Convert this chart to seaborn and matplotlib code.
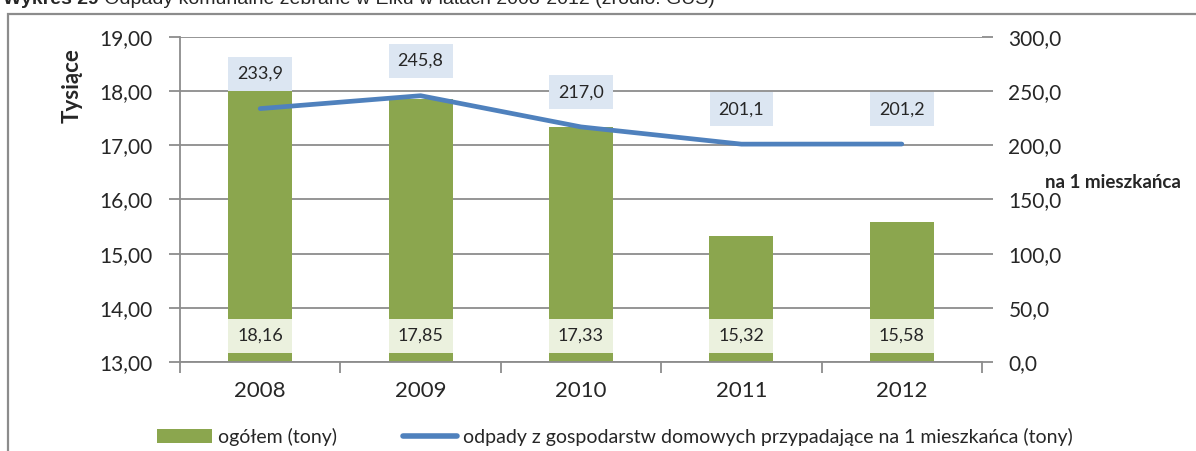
import matplotlib
matplotlib.use("Agg")
import matplotlib.pyplot as plt
import matplotlib.ticker as mticker
from matplotlib.patches import Rectangle
import numpy as np
import pandas as pd
import seaborn as sns

# --- data -------------------------------------------------------------
years = ["2008", "2009", "2010", "2011", "2012"]
total_thousand_t = [18.16, 17.85, 17.33, 15.32, 15.58]      # ogółem (tys. ton)
per_capita_kg = [233.9, 245.8, 217.0, 201.1, 201.2]         # na 1 mieszkańca
left_ticks = [13, 14, 15, 16, 17, 18, 19]
right_ticks = [0, 50, 100, 150, 200, 250, 300]

title_bold = "Wykres 29"
title_rest = " Odpady komunalne zebrane w Ełku w latach 2008-2012 (źródło: GUS)"
legend_bar = "ogółem (tony)"
legend_line = "odpady z gospodarstw domowych przypadające na 1 mieszkańca (tony)"

df = pd.DataFrame({"rok": years, "ogolem": total_thousand_t, "na_mieszkanca": per_capita_kg})

# --- style ------------------------------------------------------------
sns.set_theme(style="white")
plt.rcParams["font.family"] = ["Lato", "DejaVu Sans"]

BAR = "#8BA64E"
LINE = "#4F81BD"
GRID = "#8C8C8C"
BAR_BOX = "#EBF1DE"
LINE_BOX = "#DCE6F2"

W, H = 1196, 451
fig = plt.figure(figsize=(W / 100, H / 100), dpi=100)
ax = fig.add_axes([180 / W, 1 - 362 / H, 802 / W, 325 / H])

def comma(fmt):
    return mticker.FuncFormatter(lambda v, p: fmt.format(v).replace(".", ","))

# bars
sns.barplot(data=df, x="rok", y="ogolem", ax=ax, color=BAR, saturation=1,
            width=0.4, edgecolor="none", zorder=2)
ax.set_ylim(left_ticks[0], left_ticks[-1])
ax.set_xlim(-0.5, len(years) - 0.5)
ax.set_yticks(left_ticks)
ax.yaxis.set_major_formatter(comma("{:.2f}"))
ax.yaxis.grid(True, color=GRID, linewidth=1.3, zorder=0)
ax.set_axisbelow(True)
ax.set_xlabel("")
ax.set_ylabel("")

for side in ("top", "right"):
    ax.spines[side].set_visible(False)
for side in ("left", "bottom"):
    ax.spines[side].set_color(GRID)
    ax.spines[side].set_linewidth(1.3)

ax.tick_params(axis="y", which="major", length=8, width=1.3, color=GRID,
               labelsize=15, pad=12, left=True)
ax.tick_params(axis="x", which="major", length=0, labelsize=16, pad=14)
ax.xaxis.set_minor_locator(mticker.FixedLocator(np.arange(-0.5, len(years), 1.0)))
ax.tick_params(axis="x", which="minor", length=8, width=1.3, color=GRID, bottom=True)

# value labels at the base of each bar
for i, v in enumerate(total_thousand_t):
    ax.annotate(f"{v:.2f}".replace(".", ","), xy=(i, left_ticks[0]),
                xytext=(0, 19), textcoords="offset points",
                ha="center", va="center", fontsize=13, zorder=5,
                bbox=dict(boxstyle="square,pad=0.5", fc=BAR_BOX, ec="none"))

# line on the secondary axis
ax2 = ax.twinx()
sns.pointplot(data=df, x="rok", y="na_mieszkanca", ax=ax2, color=LINE,
              markers="", linewidth=3.4, errorbar=None)
for ln in ax2.lines:
    ln.set_solid_capstyle("round")
    ln.set_solid_joinstyle("round")
ax2.set_ylim(right_ticks[0], right_ticks[-1])
ax2.set_xlim(-0.5, len(years) - 0.5)
ax2.set_yticks(right_ticks)
ax2.yaxis.set_major_formatter(comma("{:.1f}"))
ax2.set_xlabel("")
ax2.set_ylabel("")
for side in ("top", "left", "right", "bottom"):
    ax2.spines[side].set_visible(False)
ax2.tick_params(axis="y", length=8, width=1.3, color=GRID, labelsize=15, pad=11, right=True)
ax2.grid(False)

for i, v in enumerate(per_capita_kg):
    ax2.annotate(f"{v:.1f}".replace(".", ","), xy=(i, v),
                 xytext=(0, 25), textcoords="offset points",
                 ha="center", va="center", fontsize=13, zorder=6,
                 bbox=dict(boxstyle="square,pad=0.5", fc=LINE_BOX, ec="none"))

# axis captions
fig.text(72 / W, 1 - 86 / H, "Tysiące", rotation=90, ha="center", va="center",
         fontsize=16, fontweight="bold")
fig.text(1045 / W, 1 - 183 / H, "na 1 mieszkańca", ha="left", va="center",
         fontsize=13.5, fontweight="bold")

# legend
handles = [
    Rectangle((0, 0), 1, 1, fc=BAR, ec="none"),
    plt.Line2D([0], [0], color=LINE, linewidth=4, solid_capstyle="round"),
]
fig.legend(handles, [legend_bar, legend_line], loc="center",
           bbox_to_anchor=(615 / W, 1 - 437 / H), ncol=2, frameon=False,
           fontsize=14, handlelength=2.8, handleheight=0.7,
           handletextpad=0.3, columnspacing=3.4)

# outer frame
fig.patches.append(Rectangle((8 / W, -0.01), 1.0, 1 - 14 / H + 0.01,
                             transform=fig.transFigure, fill=False,
                             ec="#8C8C8C", lw=1.6))

# title (partly above the top edge)
tb = fig.text(3 / W, 1 - 4 / H, title_bold, ha="left", va="baseline",
              fontsize=14, fontweight="bold", family=["Liberation Sans", "DejaVu Sans"])
fig.canvas.draw()
ext = tb.get_window_extent(fig.canvas.get_renderer())
fig.text(ext.x1 / W, 1 - 4 / H, title_rest, ha="left", va="baseline",
         fontsize=14, family=["Liberation Sans", "DejaVu Sans"])

fig.savefig("out.png", dpi=100)
